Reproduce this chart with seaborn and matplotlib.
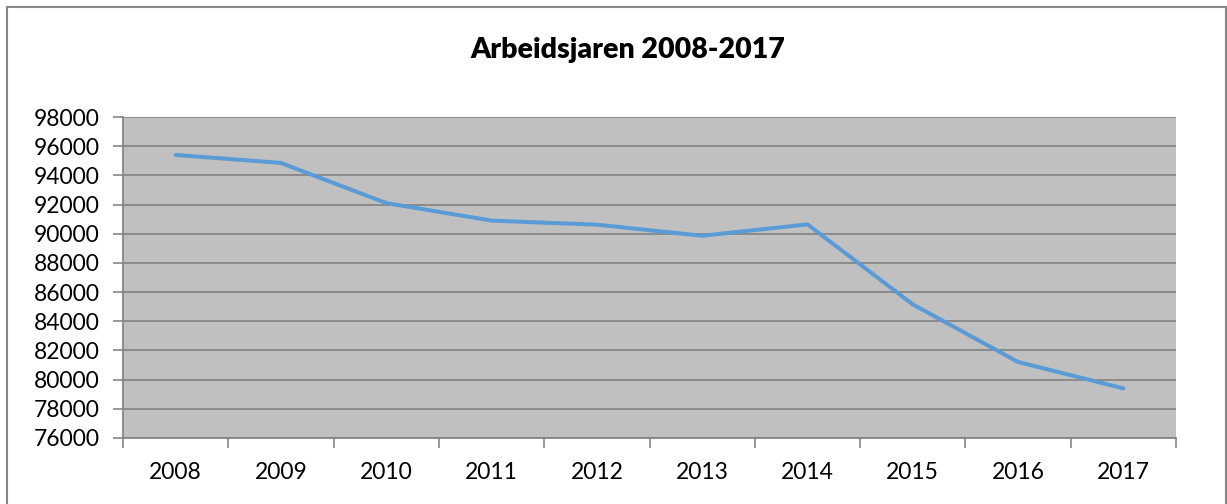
import matplotlib
matplotlib.use("Agg")
import matplotlib.pyplot as plt
import seaborn as sns
import pandas as pd
from matplotlib.patches import Rectangle
from matplotlib.ticker import FixedLocator, NullFormatter

years = [2008, 2009, 2010, 2011, 2012, 2013, 2014, 2015, 2016, 2017]
values = [95400, 94850, 92100, 90900, 90620, 89860, 90640, 85160, 81210, 79400]
y_ticks = list(range(76000, 98001, 2000))
title = "Arbeidsjaren 2008-2017"

df = pd.DataFrame({"year": years, "value": values})

sns.set_theme(style="white")
plt.rcParams["font.family"] = ["Lato", "DejaVu Sans"]

fig = plt.figure(figsize=(12.27, 5.04), dpi=100)
ax = fig.add_axes([123/1227, 1-438/504, (1176-123)/1227, (438-117)/504])
ax.set_facecolor("#C0C0C0")

sns.lineplot(data=df, x="year", y="value", ax=ax, color="#5B9BD5", linewidth=2.9)

ax.set_xlim(years[0]-0.5, years[-1]+0.5)
ax.set_ylim(y_ticks[0], y_ticks[-1])
ax.set_yticks(y_ticks)
ax.set_yticklabels([str(v) for v in y_ticks], fontsize=16.5, color="black")
ax.set_xticks(years)
ax.set_xticklabels([str(y) for y in years], fontsize=16.5, color="black")
ax.xaxis.set_minor_locator(FixedLocator([y-0.5 for y in years] + [years[-1]+0.5]))
ax.xaxis.set_minor_formatter(NullFormatter())
ax.tick_params(axis="x", which="major", length=0, pad=17)
ax.tick_params(axis="x", which="minor", length=7, width=1.2, color="#868686", direction="out", bottom=True)
ax.tick_params(axis="y", which="major", length=7, width=1.2, color="#868686", direction="out", left=True, pad=10)

ax.grid(axis="y", color="#868686", linewidth=1.3)
ax.set_axisbelow(True)
for s in ["top", "right"]:
    ax.spines[s].set_visible(False)
for s in ["left", "bottom"]:
    ax.spines[s].set_color("#868686")
    ax.spines[s].set_linewidth(1.3)
ax.set_xlabel("")
ax.set_ylabel("")

fig.text(628/1227, 1-50/504, title, ha="center", va="center", fontsize=20.5, fontweight="heavy", color="black")

fig.patches.append(Rectangle((7/1227, -0.05), (1226-7)/1227, 1.05-7/504, transform=fig.transFigure,
                             fill=False, edgecolor="#868686", linewidth=1.5))

fig.savefig("out.png", dpi=100)
